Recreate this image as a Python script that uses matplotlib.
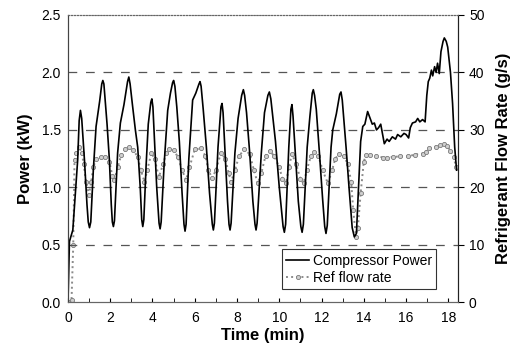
import matplotlib
matplotlib.use('Agg')
import matplotlib.pyplot as plt
from matplotlib.ticker import MultipleLocator

plt.rcParams['font.family'] = ['Liberation Sans', 'DejaVu Sans']

# compressor power (kW) vs time (min)
power_pts = [
    (0, 0), (0.07, 0.53), (0.23, 0.63), (0.35, 0.95), (0.46, 1.24), (0.53, 1.58), (0.59, 1.67),
    (0.65, 1.6), (0.78, 1.24), (0.9, 0.85), (0.96, 0.7), (1.02, 0.65), (1.08, 0.7), (1.2, 1.15),
    (1.33, 1.53), (1.5, 1.75), (1.6, 1.9), (1.65, 1.93), (1.7, 1.9), (1.85, 1.55), (1.96, 1.24),
    (2.05, 0.85), (2.1, 0.7), (2.15, 0.66), (2.2, 0.71), (2.35, 1.3), (2.48, 1.56), (2.65, 1.72),
    (2.82, 1.92), (2.88, 1.96), (2.94, 1.9), (3.05, 1.72), (3.19, 1.5), (3.3, 1.35), (3.42, 1.0),
    (3.49, 0.72), (3.54, 0.66), (3.59, 0.72), (3.7, 1.2), (3.8, 1.55), (3.92, 1.74), (3.97, 1.77),
    (4.02, 1.7), (4.2, 1.0), (4.31, 0.69), (4.36, 0.64), (4.41, 0.7), (4.55, 1.2), (4.72, 1.67),
    (4.85, 1.82), (4.95, 1.91), (5.0, 1.93), (5.06, 1.88), (5.15, 1.7), (5.27, 1.4), (5.4, 0.95),
    (5.49, 0.68), (5.54, 0.62), (5.59, 0.68), (5.72, 1.25), (5.9, 1.76), (6.05, 1.82), (6.2, 1.9),
    (6.25, 1.92), (6.3, 1.88), (6.4, 1.68), (6.55, 1.35), (6.7, 0.95), (6.83, 0.68), (6.88, 0.63),
    (6.93, 0.69), (7.1, 1.35), (7.24, 1.7), (7.29, 1.73), (7.34, 1.65), (7.55, 0.88), (7.62, 0.68),
    (7.67, 0.63), (7.72, 0.69), (7.9, 1.3), (8.05, 1.6), (8.22, 1.8), (8.3, 1.85), (8.36, 1.8),
    (8.45, 1.65), (8.6, 1.3), (8.75, 0.88), (8.85, 0.68), (8.9, 0.63), (8.95, 0.69), (9.15, 1.3),
    (9.3, 1.65), (9.46, 1.8), (9.53, 1.83), (9.6, 1.77), (9.7, 1.6), (9.82, 1.4), (10.0, 1.0),
    (10.18, 0.66), (10.24, 0.61), (10.3, 0.68), (10.45, 1.35), (10.55, 1.68), (10.6, 1.72),
    (10.65, 1.62), (10.9, 0.88), (11.02, 0.66), (11.08, 0.61), (11.14, 0.68), (11.32, 1.35),
    (11.45, 1.62), (11.56, 1.82), (11.61, 1.85), (11.67, 1.8), (11.75, 1.68), (11.9, 1.3),
    (12.05, 0.9), (12.15, 0.66), (12.21, 0.6), (12.27, 0.67), (12.45, 1.35), (12.53, 1.5),
    (12.7, 1.64), (12.86, 1.81), (12.92, 1.83), (12.98, 1.76), (13.16, 1.35), (13.3, 1.0),
    (13.45, 0.65), (13.55, 0.57), (13.65, 0.6), (13.75, 1.0), (13.85, 1.4), (13.95, 1.53),
    (14.05, 1.55), (14.18, 1.66), (14.3, 1.6), (14.4, 1.55), (14.5, 1.56), (14.6, 1.5),
    (14.7, 1.52), (14.8, 1.55), (14.9, 1.45), (14.97, 1.38), (15.1, 1.42), (15.2, 1.4),
    (15.35, 1.44), (15.5, 1.42), (15.6, 1.46), (15.75, 1.44), (15.9, 1.47), (16.0, 1.46),
    (16.12, 1.43), (16.2, 1.52), (16.3, 1.56), (16.45, 1.57), (16.55, 1.6), (16.65, 1.57),
    (16.78, 1.59), (16.9, 1.57), (16.98, 1.8), (17.05, 1.92), (17.12, 1.95), (17.2, 2.02),
    (17.26, 1.97), (17.35, 2.05), (17.42, 2.0), (17.49, 2.08), (17.57, 1.99), (17.65, 2.18),
    (17.75, 2.27), (17.81, 2.3), (17.9, 2.27), (17.97, 2.22), (18.1, 2.0), (18.2, 1.73),
    (18.3, 1.35), (18.39, 1.15),
]
power_t = [p[0] for p in power_pts]
power_kw = [p[1] for p in power_pts]

# refrigerant flow rate (g/s) vs time (min)
flow_t = [0, 0.17, 0.25, 0.31, 0.4, 0.54, 0.65, 0.75, 0.85, 0.99, 1.1, 1.2, 1.35, 1.57, 1.75,
          1.96, 2.1, 2.2, 2.35, 2.52, 2.7, 2.91, 3.1, 3.3, 3.45, 3.62, 3.75, 3.95, 4.1, 4.3,
          4.5, 4.65, 4.8, 5.0, 5.2, 5.4, 5.59, 5.75, 6.0, 6.3, 6.5, 6.65, 6.82, 7.0, 7.24,
          7.45, 7.6, 7.72, 7.9, 8.1, 8.35, 8.6, 8.8, 8.98, 9.15, 9.35, 9.54, 9.75, 10.0,
          10.15, 10.32, 10.45, 10.6, 10.8, 11.0, 11.15, 11.3, 11.5, 11.66, 11.85, 12.05,
          12.3, 12.5, 12.65, 12.84, 13.05, 13.25, 13.4, 13.5, 13.63, 13.72, 13.85, 14.0,
          14.1, 14.3, 14.6, 14.9, 15.1, 15.4, 15.7, 16.1, 16.4, 16.8, 16.95, 17.1, 17.4,
          17.6, 17.81, 17.95, 18.1, 18.25, 18.36]
flow_gs = [0, 0.5, 10, 24.7, 26, 27, 26, 24, 21, 18.7, 21, 23.6, 25, 25.3, 25.3,
           24.5, 22, 21.3, 23.5, 25.6, 26.6, 27, 26.5, 25.3, 23, 21, 23, 26, 25, 21.8,
           24, 26, 26.6, 26.5, 25.3, 23, 21.3, 23.5, 26.6, 26.8, 25.5, 23, 21.6, 23, 26,
           25, 22.5, 21, 23, 25.5, 26.6, 25.8, 23, 20.7, 22.5, 25.5, 26.4, 25.5, 23.5,
           21.5, 20.7, 23.5, 25.8, 24, 21.5, 20.7, 23, 25.5, 26.2, 25.5, 23,
           20.7, 23, 25, 25.9, 25.5, 24, 21, 16, 11.4, 13, 19, 24.5,
           25.6, 25.7, 25.5, 25.2, 25.2, 25.3, 25.4, 25.4, 25.7, 25.9, 26.2, 26.8, 27.1,
           27.4, 27.5, 27.2, 26.3, 25.3, 23.6]

fig = plt.figure(figsize=(5.11, 3.55), dpi=100)
ax = fig.add_axes([0.133, 0.148, 0.763, 0.81])
ax2 = ax.twinx()

l2, = ax2.plot(flow_t, flow_gs, color='#8a8a8a', lw=1.4, ls=':', marker='o', ms=3.0,
               mfc='#cfcfcf', mec='#7a7a7a', mew=0.6, label='Ref flow rate')
l1, = ax.plot(power_t, power_kw, color='black', lw=1.2, label='Compressor Power')
ax.set_zorder(ax2.get_zorder() + 1)
ax.patch.set_visible(False)

ax.set_xlim(0, 18.45)
ax.set_ylim(0, 2.5)
ax2.set_ylim(0, 50)
ax.xaxis.set_major_locator(MultipleLocator(2))
ax.xaxis.set_minor_locator(MultipleLocator(1))
ax.yaxis.set_major_locator(MultipleLocator(0.5))
ax2.yaxis.set_major_locator(MultipleLocator(10))
ax.yaxis.set_major_formatter(plt.FormatStrFormatter('%.1f'))

for yv in [0.5, 1.0, 1.5, 2.0]:
    ax.axhline(yv, color='#555555', lw=0.9, ls=(0, (7, 7)), zorder=0)

ax.tick_params(axis='x', which='both', direction='in', length=3, labelsize=10, pad=6)
ax.tick_params(axis='y', length=0, labelsize=10, pad=5)
ax2.tick_params(axis='y', direction='out', length=4, labelsize=10, pad=4)

for a in (ax, ax2):
    a.spines['top'].set_linestyle(':')
    a.spines['top'].set_color('#666666')
    a.spines['bottom'].set_color('#666666')
    a.spines['left'].set_color('#444444')
    a.spines['right'].set_color('#222222')

ax.set_xlabel('Time (min)', fontsize=12, fontweight='bold', labelpad=2)
ax.set_ylabel('Power (kW)', fontsize=12, fontweight='bold', labelpad=6)
ax2.set_ylabel('Refrigerant Flow Rate (g/s)', fontsize=12, fontweight='bold', labelpad=8)

leg = ax.legend(handles=[l1, l2], loc='lower right', bbox_to_anchor=(0.962, 0.022),
                fontsize=10, frameon=True, fancybox=False, handlelength=1.6,
                handletextpad=0.3, borderpad=0.3, labelspacing=0.25)
leg.get_frame().set_edgecolor('black')
leg.get_frame().set_linewidth(0.8)

fig.savefig('out.png', dpi=100)
